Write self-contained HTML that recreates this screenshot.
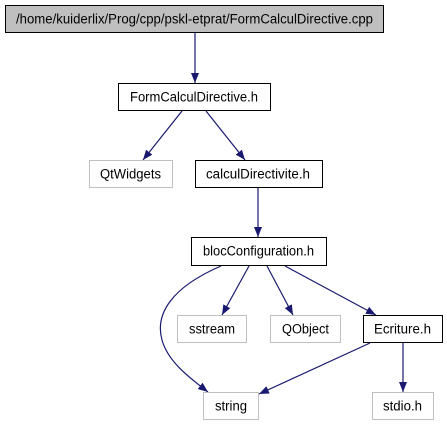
<!DOCTYPE html>
<html><head><style>html,body{margin:0;padding:0;background:#fff}svg{display:block}text{font-family:"Liberation Sans",Arial,sans-serif;font-size:13.5px;fill:#000}</style></head><body>
<svg width="447" height="427" viewBox="0 0 447 427" xmlns="http://www.w3.org/2000/svg">
<defs><marker id="a" markerWidth="10" markerHeight="8" refX="10" refY="4" orient="auto" markerUnits="userSpaceOnUse"><path d="M0,0 L10,4 L0,8 Z" fill="#191970"/></marker></defs>
<g stroke="#191970" stroke-width="1.2" fill="none" marker-end="url(#a)">
<path d="M195,33 L195,83"/>
<path d="M182,111 L143,160"/>
<path d="M206,111 L245,160"/>
<path d="M258,188 L258,237"/>
<path d="M221,266 C170,288 155,315 162,340 C168,362 190,378 208,392"/>
<path d="M249,266 L222,315"/>
<path d="M267,266 L293,315"/>
<path d="M285,266 L376,315"/>
<path d="M370,343 L259,394"/>
<path d="M403,343 L403,392"/>
</g>
<g stroke-width="1">
<rect x="5.5" y="5.5" width="378" height="27" fill="#bfbfbf" stroke="#000"/>
<rect x="118.5" y="83.5" width="152" height="27" fill="#fff" stroke="#000"/>
<rect x="89.5" y="160.5" width="83" height="27" fill="#fff" stroke="#bfbfbf"/>
<rect x="195.5" y="160.5" width="127" height="27" fill="#fff" stroke="#000"/>
<rect x="191.5" y="237.5" width="135" height="28" fill="#fff" stroke="#000"/>
<rect x="177.5" y="315.5" width="69" height="27" fill="#fff" stroke="#bfbfbf"/>
<rect x="270.5" y="315.5" width="70" height="27" fill="#fff" stroke="#bfbfbf"/>
<rect x="363.5" y="315.5" width="79" height="27" fill="#fff" stroke="#000"/>
<rect x="203.5" y="392.5" width="55" height="27" fill="#fff" stroke="#bfbfbf"/>
<rect x="372.5" y="392.5" width="61" height="27" fill="#fff" stroke="#bfbfbf"/>
</g>
<text x="16" y="23.5" textLength="357" lengthAdjust="spacingAndGlyphs">/home/kuiderlix/Prog/cpp/pskl-etprat/FormCalculDirective.cpp</text>
<text x="130" y="101.5" textLength="128" lengthAdjust="spacingAndGlyphs">FormCalculDirective.h</text>
<text x="100" y="178.5" textLength="61" lengthAdjust="spacingAndGlyphs">QtWidgets</text>
<text x="206" y="178.5" textLength="104" lengthAdjust="spacingAndGlyphs">calculDirectivite.h</text>
<text x="203" y="255.5" textLength="111" lengthAdjust="spacingAndGlyphs">blocConfiguration.h</text>
<text x="189" y="333.5" textLength="46" lengthAdjust="spacingAndGlyphs">sstream</text>
<text x="282" y="333.5" textLength="47" lengthAdjust="spacingAndGlyphs">QObject</text>
<text x="374" y="333.5" textLength="57" lengthAdjust="spacingAndGlyphs">Ecriture.h</text>
<text x="215" y="410.5" textLength="32" lengthAdjust="spacingAndGlyphs">string</text>
<text x="383" y="410.5" textLength="39" lengthAdjust="spacingAndGlyphs">stdio.h</text>
</svg>
</body></html>
